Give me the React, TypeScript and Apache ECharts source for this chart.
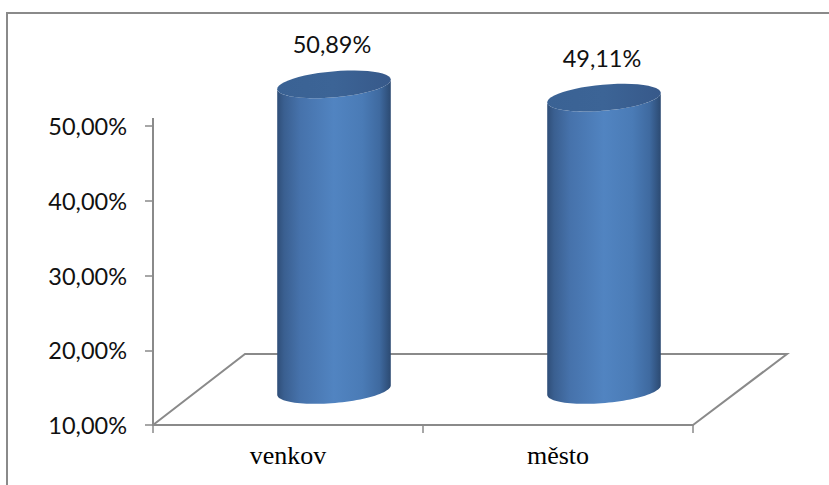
import React, { useEffect, useRef } from "react";
import * as echarts from "echarts";

const categories = ["venkov", "město"];
const seriesValues = [50.89, 49.11];
const yMin = 10;
const yMax = 50;
const yStep = 10;

const fmt = (v: number) => v.toFixed(2).replace(".", ",") + "%";
const GREY = "#8a8a8a";
const LABEL_FONT = "Lato";

function arcPoints(cx: number, cy: number, from: number, to: number) {
  const rx = 57;
  const ry = 13;
  const r = (-5 * Math.PI) / 180;
  const pts: number[][] = [];
  const n = 48;
  for (let k = 0; k <= n; k++) {
    const t = from + ((to - from) * k) / n;
    pts.push([
      cx + rx * Math.cos(t) * Math.cos(r) - ry * Math.sin(t) * Math.sin(r),
      cy + rx * Math.cos(t) * Math.sin(r) + ry * Math.sin(t) * Math.cos(r),
    ]);
  }
  return pts;
}

export default function App() {
  const ref = useRef<HTMLDivElement>(null);
  useEffect(() => {
    const chart = echarts.init(ref.current!, null, { renderer: "svg" });
    const bodyGrad = new echarts.graphic.LinearGradient(0, 0, 1, 0, [
      { offset: 0, color: "#2f4e78" },
      { offset: 0.06, color: "#3a5f90" },
      { offset: 0.2, color: "#4672ab" },
      { offset: 0.5, color: "#5184c1" },
      { offset: 0.75, color: "#4a7bb6" },
      { offset: 0.9, color: "#3f6aa0" },
      { offset: 1, color: "#2c4a72" },
    ]);
    const topGrad = new echarts.graphic.LinearGradient(0, 0, 1, 0, [
      { offset: 0, color: "#3a6294" },
      { offset: 0.5, color: "#3c6496" },
      { offset: 1, color: "#37598a" },
    ]);
    chart.setOption({
      animation: false,
      backgroundColor: "#ffffff",
      grid: { left: 153, right: 136, top: 126, bottom: 60 },
      graphic: [
        {
          type: "polyline",
          z: 0,
          shape: { points: [[7, 485], [7, 13], [829, 13]] },
          style: { fill: "none", stroke: GREY, lineWidth: 2 },
        },
        {
          type: "polyline",
          z: 0,
          shape: { points: [[153, 425], [245, 354], [787, 354], [693, 425]] },
          style: { fill: "none", stroke: GREY, lineWidth: 2 },
        },
        {
          type: "line",
          z: 0,
          shape: { x1: 153, y1: 118, x2: 153, y2: 126 },
          style: { stroke: GREY, lineWidth: 2 },
        },
      ],
      xAxis: {
        type: "category",
        data: categories,
        axisLine: { lineStyle: { color: GREY, width: 2 } },
        axisTick: { show: true, length: 8, lineStyle: { color: GREY, width: 1.5 } },
        axisLabel: {
          color: "#000",
          fontFamily: "Liberation Serif",
          fontSize: 26,
          margin: 17,
        },
      },
      yAxis: {
        type: "value",
        min: yMin,
        max: yMax,
        interval: yStep,
        splitLine: { show: false },
        axisLine: { show: true, lineStyle: { color: GREY, width: 2 } },
        axisTick: { show: true, length: 8, lineStyle: { color: GREY, width: 1.5 } },
        axisLabel: {
          color: "#111",
          fontFamily: LABEL_FONT,
          fontSize: 23.5,
          margin: 26,
          padding: [5, 0, 0, 0],
          formatter: (v: number) => fmt(v),
        },
      },
      series: [
        {
          type: "custom",
          clip: false,
          data: seriesValues.map((v, i) => [i, v]),
          renderItem: (_p: any, api: any) => {
            const i = api.value(0);
            const v = api.value(1);
            const top = api.coord([i, v]);
            const base = api.coord([i, yMin]);
            const cx = top[0] + 46;
            const ty = top[1] - 35;
            const by = base[1] - 35;
            const bodyPts = [
              ...arcPoints(cx, by, Math.PI, 0),
              ...arcPoints(cx, ty, 0, Math.PI),
            ];
            const capPts = arcPoints(cx, ty, 0, Math.PI * 2);
            return {
              type: "group",
              children: [
                {
                  type: "polygon",
                  shape: { points: bodyPts },
                  style: { fill: bodyGrad },
                },
                {
                  type: "polygon",
                  shape: { points: capPts },
                  style: { fill: topGrad },
                },
                {
                  type: "text",
                  style: {
                    text: fmt(v),
                    x: cx - 2,
                    y: ty - 40,
                    align: "center",
                    verticalAlign: "middle",
                    fill: "#111",
                    font: `23.5px ${LABEL_FONT}`,
                  },
                },
              ],
            };
          },
        },
      ],
    });
    return () => chart.dispose();
  }, []);
  return (
    <div
      ref={ref}
      style={{ position: "fixed", left: 0, top: 0, width: 829, height: 485 }}
    />
  );
}
